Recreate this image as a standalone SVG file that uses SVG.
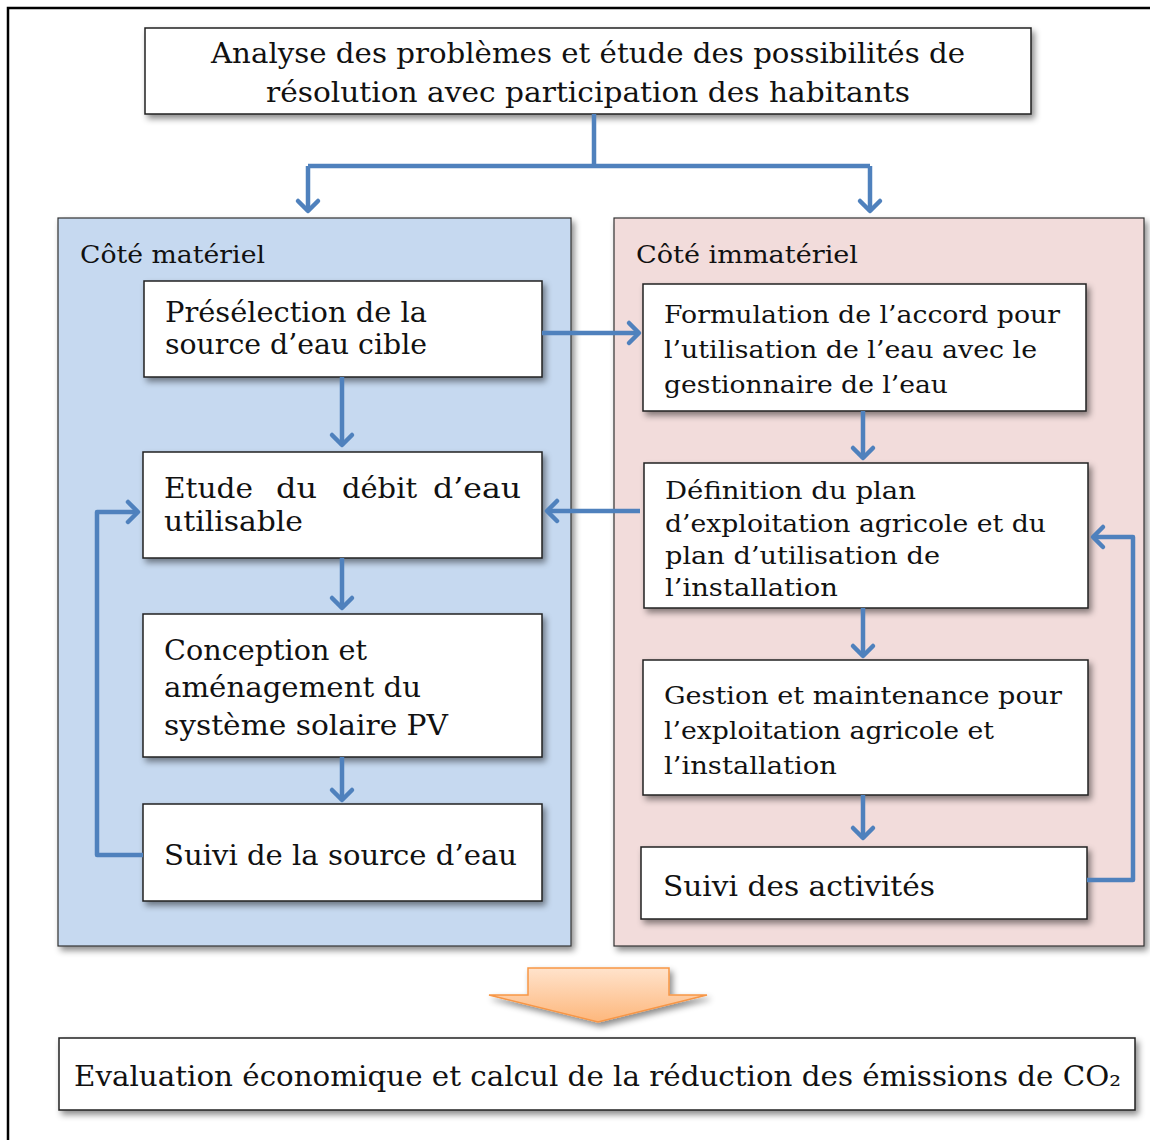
<svg xmlns="http://www.w3.org/2000/svg" width="1150" height="1140" viewBox="0 0 1150 1140">
<defs>
<filter id="sh" x="-10%" y="-10%" width="130%" height="140%">
<feDropShadow dx="3" dy="4" stdDeviation="3" flood-color="#000" flood-opacity="0.45"/>
</filter>
<marker id="ah" markerUnits="userSpaceOnUse" markerWidth="30" markerHeight="30" viewBox="-15 -15 30 30" refX="0" refY="0" orient="auto">
<path d="M-10,-10 L0,0 L-10,10" fill="none" stroke="#4f81bd" stroke-width="4.5" stroke-linecap="round" stroke-linejoin="round"/>
</marker>
<linearGradient id="og" x1="0" y1="0" x2="0" y2="1">
<stop offset="0" stop-color="#ffe3cc"/>
<stop offset="1" stop-color="#fdb77c"/>
</linearGradient>
</defs>
<style>
.box{fill:#fff;stroke:#222;stroke-width:1.5;filter:url(#sh)}
.t{font-family:"DejaVu Serif","Liberation Serif",serif;fill:#111}
.big{font-size:28px}
.mid{font-size:25px}
.con{fill:none;stroke:#4f81bd;stroke-width:4.5;stroke-linejoin:round}
</style>
<rect x="8" y="8" width="1160" height="1160" fill="#fff" stroke="#000" stroke-width="2.5"/>

<g id="top">
<rect class="box" x="145" y="28" width="886" height="86"/>
<text class="t big" x="588" y="63" text-anchor="middle" textLength="754" lengthAdjust="spacingAndGlyphs">Analyse des problèmes et étude des possibilités de</text>
<text class="t big" x="588" y="102" text-anchor="middle" textLength="644" lengthAdjust="spacingAndGlyphs">résolution avec participation des habitants</text>
</g>

<g id="left-panel">
<rect x="58" y="218" width="513" height="728" fill="#c6d9f0" stroke="#333" stroke-width="1.2" filter="url(#sh)"/>
<text class="t mid" x="80" y="263" textLength="185" lengthAdjust="spacingAndGlyphs">Côté matériel</text>
</g>
<g id="right-panel">
<rect x="614" y="218" width="530" height="728" fill="#f2dcdb" stroke="#333" stroke-width="1.2" filter="url(#sh)"/>
<text class="t mid" x="636" y="263" textLength="222" lengthAdjust="spacingAndGlyphs">Côté immatériel</text>
</g>

<g id="b1">
<rect class="box" x="144" y="281" width="398" height="96"/>
<text class="t big" x="165" y="322" textLength="262" lengthAdjust="spacingAndGlyphs">Présélection de la</text>
<text class="t big" x="165" y="354" textLength="262" lengthAdjust="spacingAndGlyphs">source d’eau cible</text>
</g>
<g id="b2">
<rect class="box" x="143" y="452" width="399" height="106"/>
<text class="t big" y="498"><tspan x="164" textLength="89" lengthAdjust="spacingAndGlyphs">Etude</tspan> <tspan x="276" textLength="41" lengthAdjust="spacingAndGlyphs">du</tspan> <tspan x="342" textLength="75" lengthAdjust="spacingAndGlyphs">débit</tspan> <tspan x="433" textLength="88" lengthAdjust="spacingAndGlyphs">d’eau</tspan></text>
<text class="t big" x="164" y="531" textLength="139" lengthAdjust="spacingAndGlyphs">utilisable</text>
</g>
<g id="b3">
<rect class="box" x="143" y="614" width="399" height="143"/>
<text class="t big" x="164" y="660" textLength="203" lengthAdjust="spacingAndGlyphs">Conception et</text>
<text class="t big" x="164" y="697" textLength="257" lengthAdjust="spacingAndGlyphs">aménagement du</text>
<text class="t big" x="164" y="735" textLength="284" lengthAdjust="spacingAndGlyphs">système solaire PV</text>
</g>
<g id="b4">
<rect class="box" x="143" y="804" width="399" height="97"/>
<text class="t big" x="164" y="865" textLength="353" lengthAdjust="spacingAndGlyphs">Suivi de la source d’eau</text>
</g>

<g id="r1">
<rect class="box" x="643" y="284" width="443" height="127"/>
<text class="t mid" x="664" y="323" textLength="396" lengthAdjust="spacingAndGlyphs">Formulation de l’accord pour</text>
<text class="t mid" x="664" y="358" textLength="373" lengthAdjust="spacingAndGlyphs">l’utilisation de l’eau avec le</text>
<text class="t mid" x="664" y="393" textLength="284" lengthAdjust="spacingAndGlyphs">gestionnaire de l’eau</text>
</g>
<g id="r2">
<rect class="box" x="644" y="463" width="444" height="145"/>
<text class="t mid" x="665" y="499" textLength="251" lengthAdjust="spacingAndGlyphs">Définition du plan</text>
<text class="t mid" x="665" y="532" textLength="381" lengthAdjust="spacingAndGlyphs">d’exploitation agricole et du</text>
<text class="t mid" x="665" y="564" textLength="275" lengthAdjust="spacingAndGlyphs">plan d’utilisation de</text>
<text class="t mid" x="665" y="596" textLength="173" lengthAdjust="spacingAndGlyphs">l’installation</text>
</g>
<g id="r3">
<rect class="box" x="643" y="660" width="445" height="135"/>
<text class="t mid" x="664" y="704" textLength="398" lengthAdjust="spacingAndGlyphs">Gestion et maintenance pour</text>
<text class="t mid" x="664" y="739" textLength="330" lengthAdjust="spacingAndGlyphs">l’exploitation agricole et</text>
<text class="t mid" x="664" y="774" textLength="173" lengthAdjust="spacingAndGlyphs">l’installation</text>
</g>
<g id="r4">
<rect class="box" x="641" y="847" width="446" height="72"/>
<text class="t big" x="663" y="896" textLength="272" lengthAdjust="spacingAndGlyphs">Suivi des activités</text>
</g>

<g id="result-arrow">
<path d="M528,968 L669,968 L669,995 L707,995 L598,1022 L489,995 L528,995 Z" fill="url(#og)" stroke="#f79646" stroke-width="1.5" stroke-linejoin="miter" filter="url(#sh)"/>
</g>

<g id="bottom">
<rect class="box" x="59" y="1038" width="1076" height="72"/>
<text class="t big" x="74" y="1086" textLength="1047" lengthAdjust="spacingAndGlyphs">Evaluation économique et calcul de la réduction des émissions de CO₂</text>
</g>

<g id="connectors">
<path class="con" d="M594,114 L594,166 M308,166 L870,166"/>
<path class="con" d="M308,166 L308,211" marker-end="url(#ah)"/>
<path class="con" d="M870,166 L870,211" marker-end="url(#ah)"/>
<path class="con" d="M342,377 L342,445" marker-end="url(#ah)"/>
<path class="con" d="M342,558 L342,608" marker-end="url(#ah)"/>
<path class="con" d="M342,757 L342,800" marker-end="url(#ah)"/>
<path class="con" d="M542,333 L639,333" marker-end="url(#ah)"/>
<path class="con" d="M640,511 L547,511" marker-end="url(#ah)"/>
<path class="con" d="M863,411 L863,458" marker-end="url(#ah)"/>
<path class="con" d="M863,608 L863,656" marker-end="url(#ah)"/>
<path class="con" d="M863,795 L863,838" marker-end="url(#ah)"/>
<path class="con" d="M143,855 L97,855 L97,512 L138,512" marker-end="url(#ah)"/>
<path class="con" d="M1087,880 L1133,880 L1133,537 L1093,537" marker-end="url(#ah)"/>
</g>
</svg>
